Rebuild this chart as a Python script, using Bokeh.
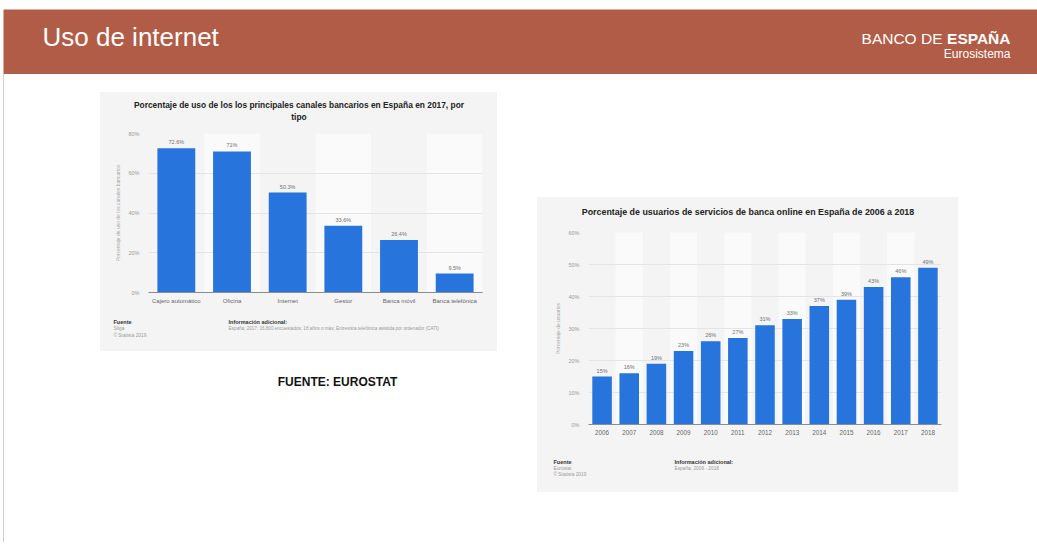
from bokeh.plotting import figure
from bokeh.models import Range1d, FactorRange, Label, Spacer, ColumnDataSource, PrintfTickFormatter, FixedTicker
from bokeh.layouts import column, row
from bokeh.embed import file_html
from bokeh.resources import INLINE
from bokeh.core.properties import value

# ---------------- data ----------------
canales = ["Cajero automático", "Oficina", "Internet", "Gestor", "Banca móvil", "Banca telefónica"]
uso_canales = [72.6, 71, 50.3, 33.6, 26.4, 9.5]
etiquetas_canales = ["72.6%", "71%", "50.3%", "33.6%", "26.4%", "9.5%"]
ticks_canales = [0, 20, 40, 60, 80]

anios = ["2006", "2007", "2008", "2009", "2010", "2011", "2012", "2013", "2014", "2015", "2016", "2017", "2018"]
usuarios_online = [15, 16, 19, 23, 26, 27, 31, 33, 37, 39, 43, 46, 49]
etiquetas_anios = ["15%", "16%", "19%", "23%", "26%", "27%", "31%", "33%", "37%", "39%", "43%", "46%", "49%"]
ticks_anios = [0, 10, 20, 30, 40, 50, 60]

FONT = "Liberation Sans"
RED = "#b15c47"
PANEL = "#f4f4f4"
BAND = "#fafafa"
BLUE = "#2775dc"


def blank(w, h, bg):
    f = figure(width=w, height=h, x_range=Range1d(0, w), y_range=Range1d(h, 0),
               x_axis_type=None, y_axis_type=None, toolbar_location=None, output_backend="svg",
               background_fill_color=bg, border_fill_color=bg, outline_line_color=None,
               min_border=0, frame_align=False)
    f.grid.visible = False
    return f


def txt(f, x, y, s, size, color, bold=False, align="left"):
    f.add_layout(Label(x=x, y=y, text=s, text_font=FONT, text_font_size=size,
                       text_font_style="bold" if bold else "normal", text_color=color,
                       text_align=align, text_baseline="middle"))


def make_chart(cats, vals, labs, ticks, ylabel, w, h, borders, bar_w, xsize):
    bl, br, bt, bb = borders
    ymax = ticks[-1]
    p = figure(width=w, height=h, x_range=FactorRange(*cats), y_range=Range1d(0, ymax),
               toolbar_location=None, output_backend="svg", title=None, frame_align=False,
               background_fill_color=PANEL, border_fill_color=PANEL, outline_line_color=None,
               min_border_left=bl, min_border_right=br, min_border_top=bt, min_border_bottom=bb)

    # alternate lighter column bands
    odd = [c for i, c in enumerate(cats) if i % 2 == 1]
    p.vbar(x=odd, top=ymax, width=1.0, fill_color=BAND, line_color=None, level="image")

    src = ColumnDataSource(dict(cat=cats, val=vals, lab=labs))
    p.vbar(x="cat", top="val", width=bar_w, source=src, fill_color=BLUE, line_color=None)
    p.text(x="cat", y="val", text="lab", source=src, text_font=value(FONT),
           text_font_size="5.5px", text_color="#707070", text_align="center",
           text_baseline="bottom", y_offset=-3)

    p.xgrid.grid_line_color = None
    p.ygrid.grid_line_color = "#e4e4e4"
    p.ygrid.grid_line_width = 1

    ya = p.yaxis[0]
    ya.ticker = FixedTicker(ticks=ticks)
    ya.formatter = PrintfTickFormatter(format="%d%%")
    ya.axis_line_color = None
    ya.major_tick_line_color = None
    ya.minor_tick_line_color = None
    ya.major_tick_out = 0
    ya.major_tick_in = 0
    ya.major_label_text_font = FONT
    ya.major_label_text_font_size = "5.5px"
    ya.major_label_text_color = "#9a9a9a"
    ya.major_label_standoff = 9
    ya.axis_label = ylabel
    ya.axis_label_text_font = FONT
    ya.axis_label_text_font_size = "5px"
    ya.axis_label_text_font_style = "normal"
    ya.axis_label_text_color = "#aaaaaa"
    ya.axis_label_standoff = 4

    xa = p.xaxis[0]
    xa.axis_line_color = "#8c8c8c"
    xa.axis_line_width = 1
    xa.major_tick_line_color = None
    xa.minor_tick_line_color = None
    xa.major_tick_out = 0
    xa.major_tick_in = 0
    xa.major_label_text_font = FONT
    xa.major_label_text_font_size = xsize
    xa.major_label_text_color = "#666666"
    xa.major_label_standoff = 5
    return p


# ---------------- left chart (panel 397 x 259) ----------------
left_title = blank(397, 35, PANEL)
txt(left_title, 198.5, 12, "Porcentaje de uso de los los principales canales bancarios en España en 2017, por",
    "8.4px", "#222222", bold=True, align="center")
txt(left_title, 198.5, 24, "tipo", "8.4px", "#222222", bold=True, align="center")

left = make_chart(canales, uso_canales, etiquetas_canales, ticks_canales,
                  "Porcentaje de uso de los canales bancarios",
                  397, 183, (48, 15, 6, 18), 0.68, "6px")

left_foot = blank(397, 41, PANEL)
txt(left_foot, 13, 11, "Fuente", "5.5px", "#333333", bold=True)
txt(left_foot, 13, 18, "Stiga", "4.8px", "#9a9a9a")
txt(left_foot, 13, 25, "© Statista 2019", "4.8px", "#9a9a9a")
txt(left_foot, 128, 11, "Información adicional:", "5.5px", "#333333", bold=True)
txt(left_foot, 128, 18, "España; 2017; 16.800 encuestados; 18 años o más; Entrevista telefónica asistida por ordenador (CATI)",
    "4.6px", "#9a9a9a")

note = blank(397, 50, "white")
txt(note, 237, 30, "FUENTE: EUROSTAT", "12px", "#111111", bold=True, align="center")

# ---------------- right chart (panel 421 x 295) ----------------
right_title = blank(421, 29, PANEL)
txt(right_title, 210.5, 14, "Porcentaje de usuarios de servicios de banca online en España de 2006 a 2018",
    "8.9px", "#222222", bold=True, align="center")

right = make_chart(anios, usuarios_online, etiquetas_anios, ticks_anios,
                   "Porcentaje de usuarios",
                   421, 216, (51, 17, 6, 18), 0.72, "6.3px")

right_foot = blank(421, 50, PANEL)
txt(right_foot, 16, 19, "Fuente", "5.5px", "#333333", bold=True)
txt(right_foot, 16, 25.5, "Eurostat", "4.8px", "#9a9a9a")
txt(right_foot, 16, 32, "© Statista 2019", "4.8px", "#9a9a9a")
txt(right_foot, 137, 19, "Información adicional:", "5.5px", "#333333", bold=True)
txt(right_foot, 137, 25.5, "España; 2006 - 2018", "4.8px", "#9a9a9a")

# ---------------- header ----------------
header = blank(1034, 65, RED)
txt(header, 39, 27, "Uso de internet", "26px", "white")
txt(header, 1007, 29, "ESPAÑA", "15.5px", "white", bold=True, align="right")
txt(header, 939, 29, "BANCO DE", "15.5px", "white", align="right")
txt(header, 1007, 44, "Eurosistema", "12px", "white", align="right")

panel_bg = {"background-color": PANEL}
edge = Spacer(width=1, height=468, styles={"background-color": "#cfcfcf"})
layout = column(
    Spacer(height=9),
    row(Spacer(width=3), header),
    row(Spacer(width=3), edge, Spacer(width=96),
        column(Spacer(height=18),
               column(left_title, left, left_foot, styles=panel_bg),
               note),
        Spacer(width=40),
        column(Spacer(height=123),
               column(right_title, right, right_foot, styles=panel_bg))),
)

open("out.html", "w").write(file_html(layout, INLINE))
